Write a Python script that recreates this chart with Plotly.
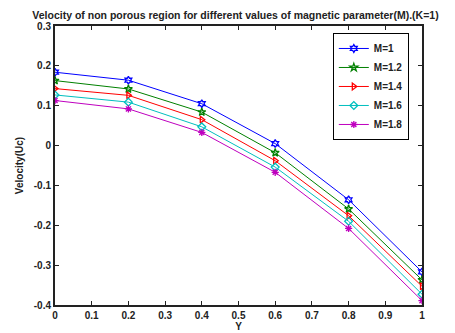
import plotly.graph_objects as go

Y = [0, 0.2, 0.4, 0.6, 0.8, 1.0]
M1 = [0.184, 0.164, 0.105, 0.005, -0.136, -0.317]
M12 = [0.163, 0.142, 0.084, -0.018, -0.159, -0.337]
M14 = [0.143, 0.126, 0.065, -0.038, -0.176, -0.353]
M16 = [0.127, 0.109, 0.047, -0.054, -0.190, -0.373]
M18 = [0.113, 0.092, 0.033, -0.067, -0.208, -0.389]
names = ["M=1", "M=1.2", "M=1.4", "M=1.6", "M=1.8"]
series = [M1, M12, M14, M16, M18]
colors = ["#0000ff", "#008000", "#ff0000", "#00bfbf", "#bf00bf"]
symbols = ["hexagram-open", "star-open", "triangle-right-open", "diamond-open", "asterisk-open"]

fig = go.Figure()
for n, s, c, m in zip(names, series, colors, symbols):
    fig.add_trace(go.Scatter(x=Y, y=s, name="<b>%s</b>" % n, mode="lines+markers",
                             line=dict(color=c, width=1),
                             marker=dict(symbol=m, size=6, color=c, line=dict(color=c, width=1.3))))

font = dict(family="Arial, Liberation Sans", size=10, color="#222")
fig.update_layout(
    width=455, height=333,
    margin=dict(l=47, r=41, t=18, b=36, autoexpand=False),
    paper_bgcolor="white", plot_bgcolor="white",
    title=dict(text="<b>Velocity of non porous region for different values of magnetic parameter(M).(K=1)</b>",
               x=0.5, xanchor="center", y=0.979, yanchor="middle", font=dict(family="Arial, Liberation Sans", size=10.5, color="#222")),
    font=font,
    showlegend=True,
    legend=dict(x=0.757, y=0.975, xanchor="left", yanchor="top", bgcolor="white",
                bordercolor="black", borderwidth=1, font=dict(family="Arial", size=10, color="#222"),
                itemwidth=30, tracegroupgap=0),
)
fig.update_xaxes(range=[0, 1], tickvals=[0, 0.1, 0.2, 0.3, 0.4, 0.5, 0.6, 0.7, 0.8, 0.9, 1],
                 ticktext=["<b>%s</b>" % t for t in ["0", "0.1", "0.2", "0.3", "0.4", "0.5", "0.6", "0.7", "0.8", "0.9", "1"]],
                 ticks="inside", ticklen=4, tickcolor="#222", showline=True, linecolor="#222", linewidth=2,
                 mirror="ticks", showgrid=False, zeroline=False, automargin=False,
                 title=dict(text="<b>Y</b>", standoff=2, font=font))
fig.update_yaxes(range=[-0.4, 0.3], tickvals=[-0.4, -0.3, -0.2, -0.1, 0, 0.1, 0.2, 0.3],
                 ticktext=["<b>%s</b>" % t for t in ["-0.4", "-0.3", "-0.2", "-0.1", "0", "0.1", "0.2", "0.3"]],
                 ticks="inside", ticklen=4, tickcolor="#222", showline=True, linecolor="#222", linewidth=2,
                 mirror="ticks", showgrid=False, zeroline=False, automargin=False,
                 title=dict(text="<b>Velocity(Uc)</b>", standoff=8, font=font))
fig.write_html("out.html")
